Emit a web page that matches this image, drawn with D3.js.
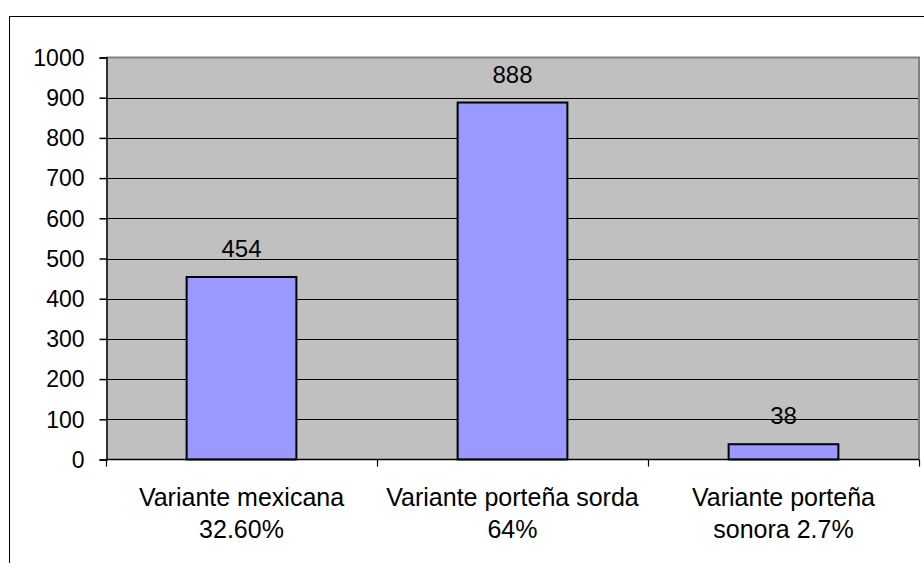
<!DOCTYPE html>
<html>
<head>
<meta charset="utf-8">
<script src="https://cdn.jsdelivr.net/npm/d3@7"></script>
<style>
  html, body { margin: 0; padding: 0; background: #fff; }
  svg { display: block; }
  text { font-family: "Liberation Sans", Arial, sans-serif; fill: #000; }
</style>
</head>
<body>
<svg id="chart" width="924" height="563"></svg>
<script>
// ---- data ----
const categories = [
  ["Variante mexicana", "32.60%"],
  ["Variante porteña sorda", "64%"],
  ["Variante porteña", "sonora 2.7%"]
];
const values = [454, 888, 38];
const yTicks = [0, 100, 200, 300, 400, 500, 600, 700, 800, 900, 1000];

// ---- layout ----
const W = 924, H = 563;
const plot = { left: 106, right: 919, top: 57.5, bottom: 459.5 };
const svg = d3.select("#chart");

// outer chart border
svg.append("rect")
  .attr("x", 9.5).attr("y", 16.5)
  .attr("width", W + 20).attr("height", H + 20)
  .attr("fill", "#fff").attr("stroke", "#000").attr("stroke-width", 1);

const x = d3.scaleBand()
  .domain(d3.range(categories.length))
  .range([plot.left, plot.right])
  .paddingInner(0.595).paddingOuter(0.2975);

const xCat = d3.scaleBand()
  .domain(d3.range(categories.length))
  .range([plot.left, plot.right])
  .padding(0);

const y = d3.scaleLinear().domain([0, 1000]).range([plot.bottom, plot.top]);

// plot background
svg.append("rect")
  .attr("x", plot.left).attr("y", plot.top)
  .attr("width", plot.right - plot.left).attr("height", plot.bottom - plot.top)
  .attr("fill", "#c0c0c0");

// gridlines
svg.append("g").selectAll("line")
  .data(yTicks.filter(d => d > 0 && d < 1000))
  .join("line")
  .attr("x1", plot.left).attr("x2", plot.right)
  .attr("y1", d => Math.round(y(d)) + 0.5).attr("y2", d => Math.round(y(d)) + 0.5)
  .attr("stroke", "#000").attr("stroke-width", 1);

// plot border top/right (gray)
svg.append("path")
  .attr("d", `M${plot.left},${plot.top}H${plot.right}V${plot.bottom}`)
  .attr("fill", "none").attr("stroke", "#808080").attr("stroke-width", 2);

// bars
svg.append("g").selectAll("rect")
  .data(values)
  .join("rect")
  .attr("x", (d, i) => x(i))
  .attr("y", d => y(d))
  .attr("width", x.bandwidth())
  .attr("height", d => y(0) - y(d))
  .attr("fill", "#9999ff")
  .attr("stroke", "#000").attr("stroke-width", 2);

// data labels
svg.append("g").selectAll("text")
  .data(values)
  .join("text")
  .attr("x", (d, i) => x(i) + x.bandwidth() / 2)
  .attr("y", d => y(d) - 20)
  .attr("text-anchor", "middle")
  .attr("font-size", 24)
  .text(d => d);

// y axis
const yAxis = d3.axisLeft(y).tickValues(yTicks).tickFormat(d3.format("d"))
  .tickSize(7).tickPadding(15);
const gy = svg.append("g")
  .attr("transform", `translate(${plot.left + 0.5},0)`)
  .call(yAxis);
gy.select(".domain").attr("stroke", "#000").attr("stroke-width", 1.5);
gy.selectAll(".tick line").attr("stroke", "#000").attr("stroke-width", 1.5);
gy.selectAll(".tick text")
  .attr("font-size", 23)
  .attr("font-family", "Liberation Sans, Arial, sans-serif")
  .attr("fill", "#000")
  .attr("dy", "0.34em");

// x axis line
svg.append("line")
  .attr("x1", plot.left).attr("x2", plot.right)
  .attr("y1", plot.bottom).attr("y2", plot.bottom)
  .attr("stroke", "#000").attr("stroke-width", 1.5);

// x ticks at category boundaries
const bounds = d3.range(categories.length + 1).map(i =>
  i < categories.length ? xCat(i) : xCat(i - 1) + xCat.bandwidth());
svg.append("g").selectAll("line")
  .data(bounds)
  .join("line")
  .attr("x1", d => Math.round(d) + 0.5).attr("x2", d => Math.round(d) + 0.5)
  .attr("y1", plot.bottom).attr("y2", plot.bottom + 7)
  .attr("stroke", "#000").attr("stroke-width", 1.2);

// category labels
const catG = svg.append("g").selectAll("text")
  .data(categories)
  .join("text")
  .attr("text-anchor", "middle")
  .attr("font-size", 25)
  .attr("x", (d, i) => xCat(i) + xCat.bandwidth() / 2)
  .attr("y", 506);
catG.selectAll("tspan")
  .data(d => d)
  .join("tspan")
  .attr("x", function () { return d3.select(this.parentNode).attr("x"); })
  .attr("dy", (d, j) => j === 0 ? 0 : 32)
  .text(d => d);
</script>
</body>
</html>
